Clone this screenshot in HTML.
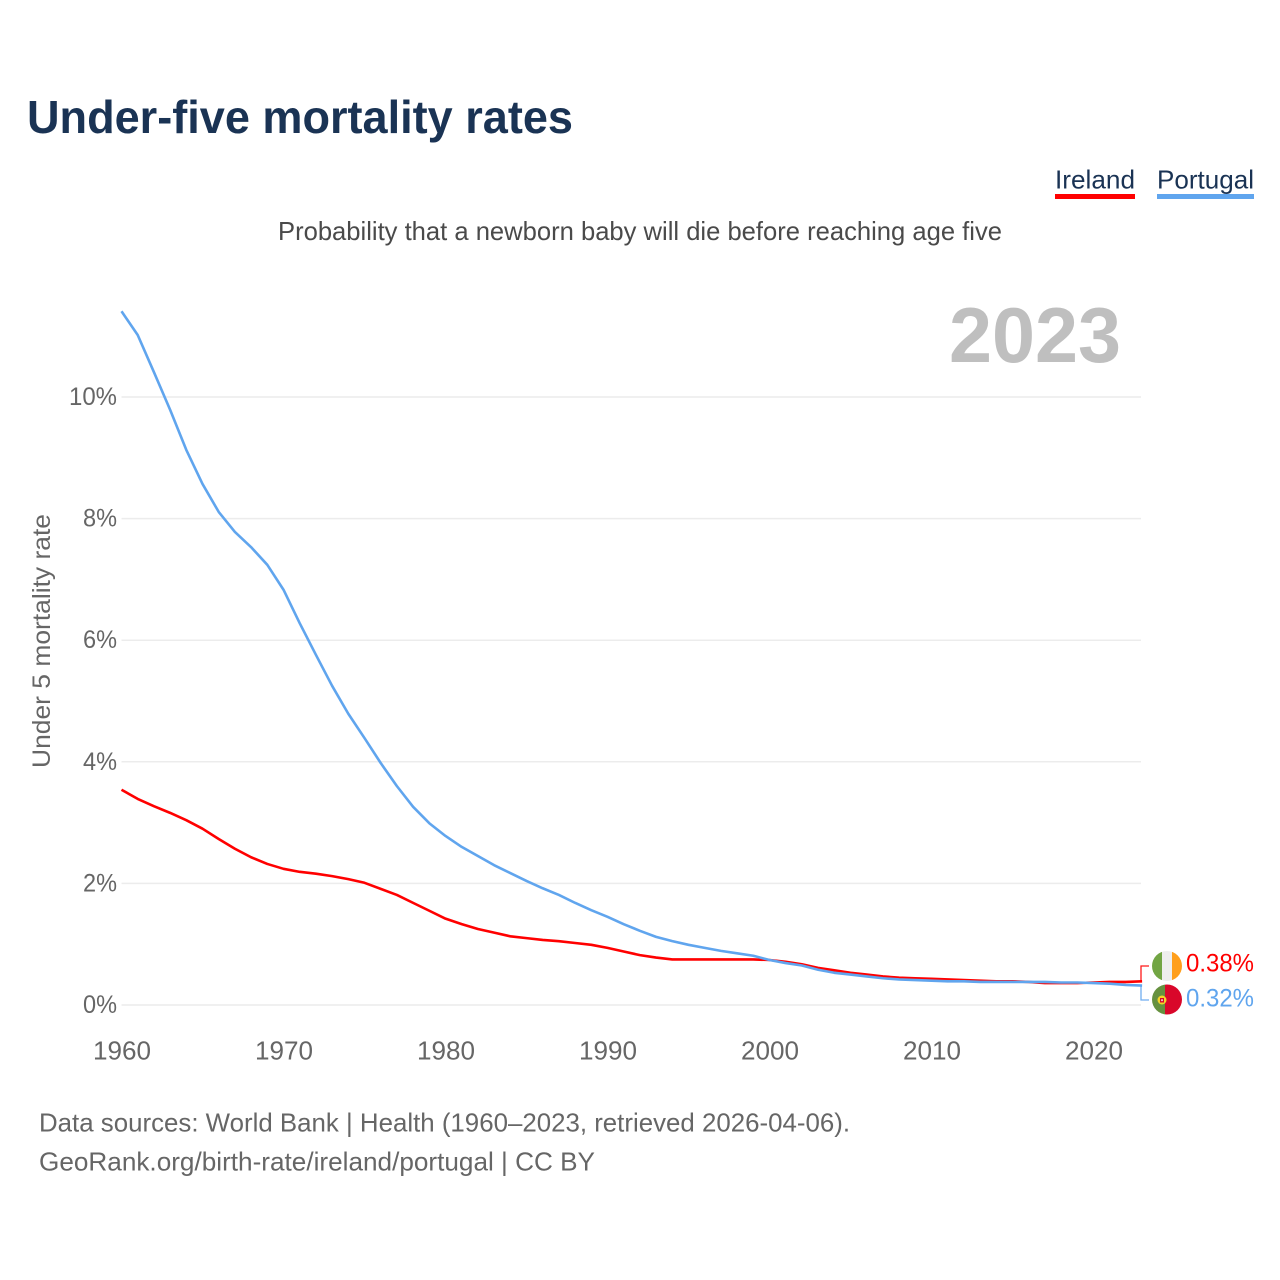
<!DOCTYPE html>
<html lang="en">
<head>
<meta charset="utf-8">
<title>Under-five mortality rates</title>
<style>
html,body{margin:0;padding:0;background:#fff;}
svg{display:block;}
text{font-family:"Liberation Sans",sans-serif;}
</style>
</head>
<body>
<svg id="chart" xmlns="http://www.w3.org/2000/svg" width="1280" height="1280" viewBox="0 0 1280 1280">
  <defs>
    <clipPath id="clip-ie"><circle cx="1167" cy="966" r="15"/></clipPath>
    <clipPath id="clip-pt"><circle cx="1167" cy="999.5" r="15"/></clipPath>
  </defs>
  <rect x="0" y="0" width="1280" height="1280" fill="#fff"/>
  <text x="27" y="133" font-size="46" font-weight="700" fill="#1a3354" textLength="546" lengthAdjust="spacingAndGlyphs">Under-five mortality rates</text>
  <text x="278" y="240" font-size="26" fill="#4a4a4a" textLength="724" lengthAdjust="spacingAndGlyphs">Probability that a newborn baby will die before reaching age five</text>

  <g>
    <g>
      <text x="1055" y="188.5" font-size="26" fill="#1a3354" textLength="80" lengthAdjust="spacingAndGlyphs">Ireland</text>
      <rect x="1055" y="194" width="80" height="5" fill="#ff0000"/>
    </g>
    <g>
      <text x="1157" y="188.5" font-size="26" fill="#1a3354" textLength="97" lengthAdjust="spacingAndGlyphs">Portugal</text>
      <rect x="1157" y="194" width="97" height="5" fill="#60a5ee"/>
    </g>
  </g>

  <text x="949" y="362" font-size="78" font-weight="700" fill="#bfbfbf" textLength="172" lengthAdjust="spacingAndGlyphs">2023</text>
  <text transform="translate(50,768) rotate(-90)" x="0" y="0" font-size="25" fill="#666" textLength="254" lengthAdjust="spacingAndGlyphs">Under 5 mortality rate</text>

  <g id="grid"></g>
  <g id="y-ticks"></g>
  <g id="x-ticks"></g>
  <g id="connectors"></g>
  <g id="series"></g>

  <g clip-path="url(#clip-ie)">
    <rect x="1152" y="951" width="10" height="30" fill="#72a544"/>
    <rect x="1162" y="951" width="10" height="30" fill="#eeeeee"/>
    <rect x="1172" y="951" width="10" height="30" fill="#ff9f1c"/>
  </g>
  <g clip-path="url(#clip-pt)">
    <rect x="1152" y="984" width="13" height="31" fill="#66913f"/>
    <rect x="1165" y="984" width="17" height="31" fill="#d9072a"/>
    <circle cx="1162" cy="1000" r="4.5" fill="#f5d327"/>
    <rect x="1160" y="998" width="4" height="4.5" fill="#d9072a"/>
    <rect x="1161.2" y="999.3" width="1.6" height="1.8" fill="#eeeeee"/>
  </g>

  <g id="end-labels"></g>

  <text x="39" y="1131.5" font-size="26" fill="#666" textLength="811" lengthAdjust="spacingAndGlyphs">Data sources: World Bank | Health (1960–2023, retrieved 2026-04-06).</text>
  <text x="39" y="1170.5" font-size="26" fill="#666" textLength="556" lengthAdjust="spacingAndGlyphs">GeoRank.org/birth-rate/ireland/portugal | CC BY</text>
</svg>
<script>
const years = [1960,1961,1962,1963,1964,1965,1966,1967,1968,1969,1970,1971,1972,1973,1974,1975,1976,1977,1978,1979,1980,1981,1982,1983,1984,1985,1986,1987,1988,1989,1990,1991,1992,1993,1994,1995,1996,1997,1998,1999,2000,2001,2002,2003,2004,2005,2006,2007,2008,2009,2010,2011,2012,2013,2014,2015,2016,2017,2018,2019,2020,2021,2022,2023];
const irelandValues = [3.54,3.39,3.27,3.16,3.04,2.90,2.73,2.57,2.43,2.32,2.24,2.19,2.16,2.12,2.07,2.01,1.91,1.81,1.68,1.55,1.42,1.33,1.25,1.19,1.13,1.10,1.07,1.05,1.02,0.99,0.94,0.88,0.82,0.78,0.75,0.75,0.75,0.75,0.75,0.75,0.74,0.71,0.67,0.61,0.57,0.53,0.50,0.47,0.45,0.44,0.43,0.42,0.41,0.40,0.39,0.39,0.38,0.36,0.36,0.36,0.37,0.38,0.38,0.39];
const portugalValues = [11.41,11.02,10.41,9.79,9.13,8.57,8.11,7.78,7.53,7.24,6.83,6.28,5.76,5.25,4.79,4.39,3.98,3.60,3.26,2.99,2.78,2.60,2.45,2.30,2.17,2.04,1.92,1.81,1.68,1.56,1.45,1.33,1.22,1.12,1.05,0.99,0.94,0.89,0.85,0.81,0.74,0.69,0.65,0.58,0.53,0.50,0.47,0.44,0.42,0.41,0.40,0.39,0.39,0.38,0.38,0.38,0.38,0.38,0.37,0.37,0.36,0.35,0.33,0.32];
const yTickValues = [0,2,4,6,8,10];
const yTickLabels = ["0%","2%","4%","6%","8%","10%"];
const xTickValues = [1960,1970,1980,1990,2000,2010,2020];
const xTickLabels = ["1960","1970","1980","1990","2000","2010","2020"];
const endLabels = ["0.38%","0.32%"];

const NS = "http://www.w3.org/2000/svg";
const plotLeft = 121.5, pxPerYear = 16.2, plotRight = 1141;
const zeroY = 1005, pxPerPercent = 60.8;
function xScale(year){ return plotLeft + (year - years[0]) * pxPerYear; }
function yScale(v){ return zeroY - v * pxPerPercent; }
function make(tag, attrs, parent){
  const el = document.createElementNS(NS, tag);
  for (const k in attrs) el.setAttribute(k, attrs[k]);
  document.getElementById(parent).appendChild(el);
  return el;
}
function linePoints(values){
  return values.map((v, i) => xScale(years[i]).toFixed(2) + "," + yScale(v).toFixed(2)).join(" ");
}

yTickValues.forEach((v, i) => {
  const line = make("line", {x1: plotLeft, x2: plotRight, y1: yScale(v), y2: yScale(v), stroke: "#ececec", "stroke-width": 1.5}, "grid");
  
  
  const label = make("text", {x: 117, y: yScale(v) + 8, "text-anchor": "end", "font-size": 25, fill: "#666", textLength: yTickLabels[i].length === 3 ? 48 : 34, lengthAdjust: "spacingAndGlyphs"}, "y-ticks");
  
  
  label.textContent = yTickLabels[i];
});

xTickValues.forEach((v, i) => {
  const label = make("text", {x: xScale(v) + 0.5, y: 1059.5, "text-anchor": "middle", "font-size": 26, fill: "#666", textLength: 58, lengthAdjust: "spacingAndGlyphs"}, "x-ticks");
  
  
  label.textContent = xTickLabels[i];
});

const irelandEndY = yScale(irelandValues[irelandValues.length - 1]);
const portugalEndY = yScale(portugalValues[portugalValues.length - 1]);

const connectorIreland = make("path", {d: "M" + plotRight + " " + irelandEndY + " V966 H1149", fill: "none", stroke: "#ff0000", "stroke-width": 1.3, opacity: 0.9}, "connectors");


const connectorPortugal = make("path", {d: "M" + plotRight + " " + portugalEndY + " V1000 H1149", fill: "none", stroke: "#60a5ee", "stroke-width": 1.3, opacity: 0.9}, "connectors");



const irelandLine = make("polyline", {points: linePoints(irelandValues), fill: "none", stroke: "#ff0000", "stroke-width": 2.6, "stroke-linejoin": "round"}, "series");


const portugalLine = make("polyline", {points: linePoints(portugalValues), fill: "none", stroke: "#60a5ee", "stroke-width": 2.6, "stroke-linejoin": "round"}, "series");



const labelIreland = make("text", {x: 1186, y: 971.5, "font-size": 25, fill: "#ff0000", textLength: 68, lengthAdjust: "spacingAndGlyphs"}, "end-labels");


labelIreland.textContent = endLabels[0];
const labelPortugal = make("text", {x: 1186, y: 1006.5, "font-size": 25, fill: "#60a5ee", textLength: 68, lengthAdjust: "spacingAndGlyphs"}, "end-labels");


labelPortugal.textContent = endLabels[1];
</script>
</body>
</html>
